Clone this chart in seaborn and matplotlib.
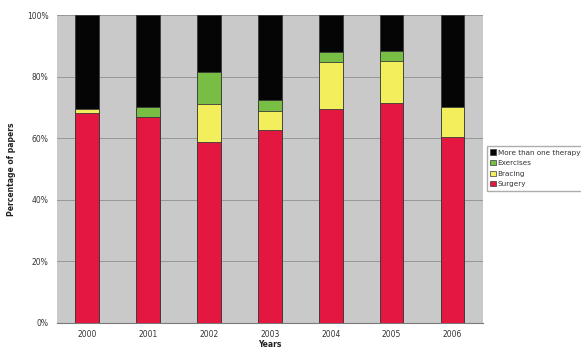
import matplotlib
matplotlib.use("Agg")
import matplotlib.pyplot as plt
import seaborn as sns
import pandas as pd
import numpy as np
from matplotlib.patches import Patch

years = ["2000", "2001", "2002", "2003", "2004", "2005", "2006"]
surgery = [68.2, 66.8, 58.8, 62.6, 69.7, 71.6, 60.6]
bracing = [1.4, 0.0, 12.5, 6.3, 15.1, 13.7, 9.6]
exercises = [0.0, 3.5, 10.3, 3.5, 3.4, 3.2, 0.0]
more_than_one = [100 - s - b - e for s, b, e in zip(surgery, bracing, exercises)]

series_names = ["Surgery", "Bracing", "Exercises", "More than one therapy"]
colors = {"Surgery": "#E3173F", "Bracing": "#F3EF5C", "Exercises": "#78BE45",
          "More than one therapy": "#050505"}

sns.set_theme(style="white")
plt.rcParams['font.family'] = ['DejaVu Sans']

fig = plt.figure(figsize=(5.81, 3.49), dpi=100)
ax = fig.add_axes([0.098, 0.0745, 0.733, 0.8815])
ax.set_facecolor("#C9C9C9")

values = [surgery, bracing, exercises, more_than_one]
cum = np.cumsum(np.array(values), axis=0)
# draw from top layer down so each overlaid bar shows its segment
for i in range(len(series_names) - 1, -1, -1):
    df = pd.DataFrame({"Year": years, "v": cum[i]})
    sns.barplot(data=df, x="Year", y="v", color=colors[series_names[i]],
                saturation=1, width=0.39, edgecolor="#3a3a3a", linewidth=0.6,
                ax=ax, zorder=3)

ax.set_ylim(0, 100)
ax.set_xlim(-0.5, 6.5)
ax.set_yticks(np.arange(0, 101, 20))
ax.set_yticklabels([f"{v}%" for v in range(0, 101, 20)])
ax.yaxis.grid(True, color="#8f8f8f", linewidth=0.6, zorder=0)
ax.set_axisbelow(True)
for s in ["top", "right", "left"]:
    ax.spines[s].set_visible(False)
ax.spines["bottom"].set_color("#7a7a7a")
ax.spines["bottom"].set_linewidth(0.8)
ax.tick_params(axis="y", labelsize=5.5, colors="#333333", length=0, pad=6)
ax.tick_params(axis="x", labelsize=5.5, colors="#333333", length=0, pad=5)
ax.set_xlabel("Years", fontsize=5.5, fontweight="bold", color="#222222", labelpad=1)
ax.set_ylabel("Percentage of papers", fontsize=5.5, fontweight="bold", color="#222222", labelpad=8)

handles = [Patch(facecolor=colors[n], edgecolor="#3a3a3a", linewidth=0.5, label=n)
           for n in reversed(series_names)]
leg = fig.legend(handles=handles, loc="upper left", bbox_to_anchor=(0.838, 0.582),
                 fontsize=5.2, frameon=True, fancybox=False, handlelength=0.7,
                 handleheight=0.7, handletextpad=0.3, labelspacing=0.62,
                 borderpad=0.5, borderaxespad=0, edgecolor="#999999")
for t in leg.get_texts():
    t.set_color("#333333")

fig.savefig("out.png", dpi=100)
